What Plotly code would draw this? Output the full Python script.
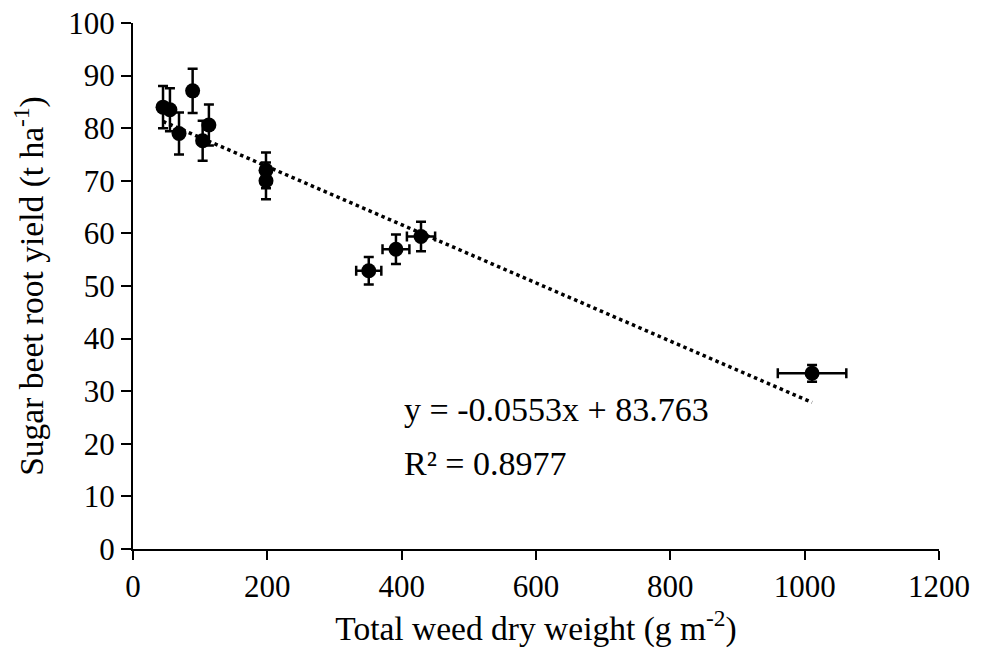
import plotly.graph_objects as go

weed_dw = [44.7, 55, 68.5, 88.8, 103.7, 113, 198, 198, 351, 391.5, 428.8, 1011]
yield_t = [84.0, 83.5, 79.0, 87.1, 77.6, 80.6, 72.0, 70.0, 52.9, 57.0, 59.4, 33.4]
yield_err = [4.0, 4.1, 4.0, 4.2, 3.8, 3.9, 3.4, 3.5, 2.6, 2.8, 2.8, 1.6]
weed_err = [4, 4, 4, 5, 5, 5, 5, 5, 18.7, 20, 21, 51]

slope = -0.0553
intercept = 83.763
r2 = 0.8977

x_ticks = [0, 200, 400, 600, 800, 1000, 1200]
y_ticks = [0, 10, 20, 30, 40, 50, 60, 70, 80, 90, 100]

FONT = "Liberation Serif"

fig = go.Figure()

x_line = [min(weed_dw), max(weed_dw)]
y_line = [slope * v + intercept for v in x_line]
fig.add_trace(go.Scatter(
    x=x_line, y=y_line, mode="lines",
    line=dict(color="black", width=3.5, dash="dot"),
    showlegend=False, hoverinfo="skip"))

fig.add_trace(go.Scatter(
    x=weed_dw, y=yield_t, mode="markers",
    marker=dict(color="black", size=15),
    error_y=dict(type="data", array=yield_err, color="black", thickness=2.5, width=5),
    error_x=dict(type="data", array=weed_err, color="black", thickness=2.5, width=5),
    showlegend=False))

fig.add_annotation(x=400, y=26.6, xref="x", yref="y",
                   text=f"y = {slope}x + {intercept}", showarrow=False,
                   xanchor="left", yanchor="middle",
                   font=dict(family=FONT, size=34, color="black"))
fig.add_annotation(x=400, y=16.3, xref="x", yref="y",
                   text=f"R² = {r2}", showarrow=False,
                   xanchor="left", yanchor="middle",
                   font=dict(family=FONT, size=34, color="black"))

fig.update_layout(
    width=986, height=655,
    margin=dict(l=125, r=55, t=15, b=114),
    plot_bgcolor="white", paper_bgcolor="white",
    font=dict(family=FONT, size=30, color="black"),
    xaxis=dict(range=[0, 1200], tickvals=x_ticks, ticks="outside", ticklen=9,
               tickwidth=2, tickcolor="black", showline=True, linecolor="black",
               linewidth=2, showgrid=False, zeroline=False, automargin=False,
               ticklabeloverflow="allow",
               title=dict(text="Total weed dry weight (g m<sup>-2</sup>)", standoff=13,
                          font=dict(size=33.5)),
               tickfont=dict(size=31)),
    yaxis=dict(range=[0, 100], tickvals=y_ticks, ticks="outside", ticklen=10,
               tickwidth=2, tickcolor="black", showline=True, linecolor="black",
               linewidth=2, showgrid=False, zeroline=False, automargin=False,
               ticklabeloverflow="allow",
               title=dict(text="Sugar beet root yield (t ha<sup>-1</sup>)", standoff=30,
                          font=dict(size=33.5)),
               tickfont=dict(size=31)),
)

fig.write_html("out.html")
